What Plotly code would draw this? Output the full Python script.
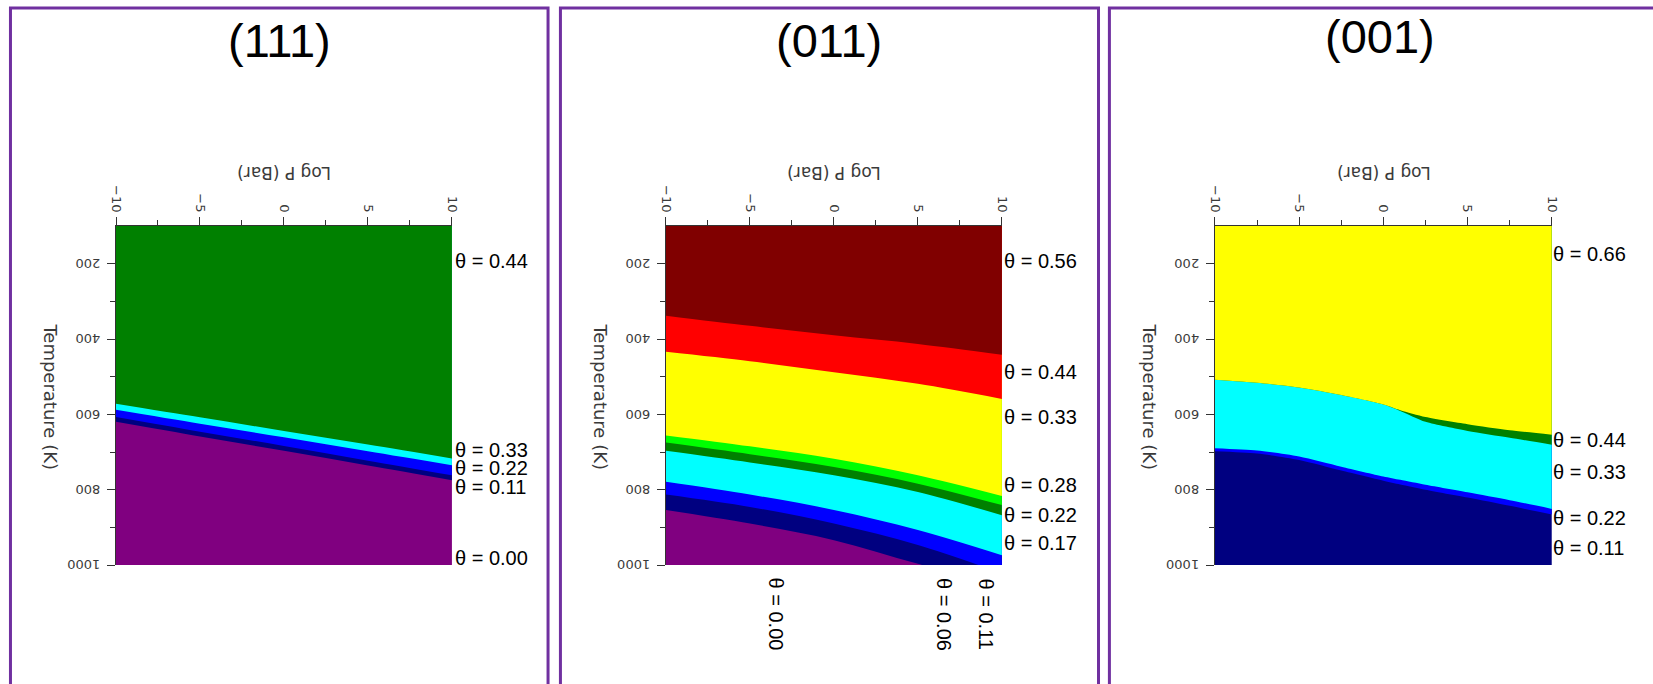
import plotly.graph_objects as go

W, H = 1653, 684

# ---------------- data ----------------
# log pressure grid (Bar) on which the phase boundaries are sampled
LOG_P = [-10.0, -5.0, 0.0, 5.0, 10.0]
LOG_P_001 = [-10.0, -7.5, -5.0, -2.5, 0.0, 1.0, 2.5, 5.0, 7.5, 10.0]

# (111): temperature (K) of the boundary below each coverage phase
B111_044 = [572, 608, 644, 680, 717]
B111_033 = [588, 625, 661, 698, 735]
B111_022 = [607, 646, 684, 723, 762]
B111_011 = [620, 659, 697, 736, 775]

# (011)
B011_056 = [338, 365, 390, 413, 442]
B011_044 = [434, 459, 488, 519, 559]
B011_033 = [656, 685, 718, 762, 817]
B011_028 = [675, 706, 740, 784, 841]
B011_022 = [697, 728, 762, 806, 868]
B011_017 = [779, 813, 854, 907, 974]
B011_011 = [813, 846, 890, 947, 1022]
B011_006 = [854, 890, 934, 997, 1057]

# (001)
B001_066 = [508, 516, 529, 549, 574, 589, 607, 626, 642, 654]
B001_044 = [508, 516, 529, 549, 574, 591, 620, 644, 662, 681]
B001_033 = [690, 696, 712, 739, 765, 774, 787, 807, 828, 851]
B001_022 = [698, 704, 721, 749, 776, 786, 800, 821, 843, 866]

# coverage labels, top to bottom
THETA_111 = ["0.44", "0.33", "0.22", "0.11", "0.00"]
THETA_011 = ["0.56", "0.44", "0.33", "0.28", "0.22", "0.17", "0.11", "0.06", "0.00"]
THETA_001 = ["0.66", "0.44", "0.33", "0.22", "0.11"]

PANEL_TITLES = ["(111)", "(011)", "(001)"]

T_TICKS = [200, 400, 600, 800, 1000]
T_MINOR = [300, 500, 700, 900]
P_TICKS = [-10, -5, 0, 5, 10]
P_MINOR = [-7.5, -2.5, 2.5, 7.5]

# ---------------- styling ----------------
C = dict(green="#008000", cyan="#00FFFF", blue="#0000FF", navy="#000080",
         purple="#800080", darkred="#800000", red="#FF0000",
         yellow="#FFFF00", lime="#00FF00")
BORDER = "#7030A0"
AXIS = "#333333"
T_TOP, T_BOTTOM = 100, 1000
FILL_BOTTOM = 1300


def px_x(p):
    return p / W


def px_y(p):
    return 1 - p / H


panels = [
    dict(x0=110, x1=449, y0=226, y1=565, logp=LOG_P, smooth=1.0,
         bounds=[B111_044, B111_033, B111_022, B111_011],
         colors=[C["green"], C["cyan"], C["blue"], C["navy"], C["purple"]]),
    dict(x0=665, x1=1004, y0=226, y1=565, logp=LOG_P, smooth=1.0,
         bounds=[B011_056, B011_044, B011_033, B011_028, B011_022,
                 B011_017, B011_011, B011_006],
         colors=[C["darkred"], C["red"], C["yellow"], C["lime"], C["green"],
                 C["cyan"], C["blue"], C["navy"], C["purple"]]),
    dict(x0=1219, x1=1559, y0=226, y1=565, logp=LOG_P_001, smooth=0.7,
         bounds=[B001_066, B001_044, B001_033, B001_022],
         colors=[C["yellow"], C["green"], C["cyan"], C["blue"], C["navy"]]),
]

fig = go.Figure()
layout = dict(
    width=W, height=H, margin=dict(l=0, r=0, t=0, b=0),
    paper_bgcolor="white", plot_bgcolor="white", showlegend=False,
)

tick_font = dict(family="DejaVu Sans", size=13, color="#3a3a3a")
annotations = []
shapes = []

for i, pan in enumerate(panels):
    xa = "x" if i == 0 else f"x{i + 1}"
    ya = "y" if i == 0 else f"y{i + 1}"
    logp = pan["logp"]
    cols = pan["colors"]
    # bottom phase first, then every phase above it is filled from its
    # lower boundary up to T = 0, each one over the previous
    fig.add_trace(go.Scatter(
        x=[logp[0], logp[-1]], y=[FILL_BOTTOM, FILL_BOTTOM], mode="lines",
        fill="tozeroy", fillcolor=cols[-1], line=dict(width=0, color=cols[-1]),
        hoverinfo="skip", xaxis=xa, yaxis=ya))
    for j in range(len(pan["bounds"]) - 1, -1, -1):
        fig.add_trace(go.Scatter(
            x=logp, y=pan["bounds"][j], mode="lines", fill="tozeroy",
            fillcolor=cols[j],
            line=dict(width=0, color=cols[j], shape="spline",
                      smoothing=pan["smooth"]),
            hoverinfo="skip", xaxis=xa, yaxis=ya))

    key_x = "xaxis" if i == 0 else f"xaxis{i + 1}"
    key_y = "yaxis" if i == 0 else f"yaxis{i + 1}"
    layout[key_x] = dict(
        domain=[px_x(pan["x0"]), px_x(pan["x1"])], anchor=ya, side="top",
        range=[-10, 10], tickvals=P_TICKS, ticks="outside", ticklen=8,
        tickcolor=AXIS, showline=True, linecolor=AXIS, linewidth=1,
        tickangle=90, tickfont=tick_font, showgrid=False, zeroline=False,
        minor=dict(tickvals=P_MINOR, ticks="outside", ticklen=5,
                   tickcolor=AXIS, showgrid=False),
    )
    layout[key_y] = dict(
        domain=[px_y(pan["y1"]), px_y(pan["y0"])], anchor=xa,
        range=[T_BOTTOM, T_TOP], tickvals=T_TICKS, ticks="outside", ticklen=8,
        tickcolor=AXIS, showline=True, linecolor=AXIS, linewidth=1,
        showticklabels=False, showgrid=False, zeroline=False,
        minor=dict(tickvals=T_MINOR, ticks="outside", ticklen=5,
                   tickcolor=AXIS, showgrid=False),
    )
    # temperature tick labels, written upside down
    for t in T_TICKS:
        annotations.append(dict(text=str(t), xref="paper", yref=ya,
                                x=px_x(pan["x0"] - 14), y=t, showarrow=False,
                                xanchor="right", yanchor="middle",
                                textangle=180, font=tick_font))

fig.update_layout(**layout)

# panel frames
frames = [(3.5, 546), (558.5, 1101.5), (1112.5, 1700)]
for (a, b) in frames:
    shapes.append(dict(type="rect", xref="paper", yref="paper",
                       x0=px_x(a), x1=px_x(b), y0=px_y(8), y1=px_y(720),
                       line=dict(color=BORDER, width=3)))

title_pos = [(274.5, 40), (830, 40), (1386, 37)]
for txt, (cx, cy) in zip(PANEL_TITLES, title_pos):
    annotations.append(dict(text=txt, xref="paper", yref="paper",
                            x=px_x(cx), y=px_y(cy), showarrow=False,
                            xanchor="center", yanchor="middle",
                            font=dict(family="Liberation Sans", size=47,
                                      color="black")))

# axis titles (the frame is drawn turned half a revolution)
for pan in panels:
    cx = (pan["x0"] + pan["x1"]) / 2
    annotations.append(dict(text="Log P (Bar)", xref="paper", yref="paper",
                            x=px_x(cx), y=px_y(173), showarrow=False,
                            xanchor="center", yanchor="middle", textangle=180,
                            font=dict(family="DejaVu Sans", size=17,
                                      color="#3a3a3a")))
    annotations.append(dict(text="Temperature (K)", xref="paper", yref="paper",
                            x=px_x(pan["x0"] - 67), y=px_y(397),
                            showarrow=False, xanchor="center",
                            yanchor="middle", textangle=90,
                            font=dict(family="DejaVu Sans", size=18,
                                      color="#3a3a3a")))

label_font = dict(family="Liberation Sans", size=20, color="black")


def theta_right(theta, x_left, ys):
    for t, y in zip(theta, ys):
        annotations.append(dict(text=f"θ = {t}", xref="paper", yref="paper",
                                x=px_x(x_left), y=px_y(y), showarrow=False,
                                xanchor="left", yanchor="middle",
                                borderpad=0, font=label_font))


theta_right(THETA_111, 451, [261, 450, 468, 487, 558])
theta_right(THETA_011[:6], 1005, [261, 372, 417, 485, 515, 543])
theta_right(THETA_001, 1559, [254, 440, 472, 518, 548])

for t, x in zip(THETA_011[6:], [988, 946, 777]):
    annotations.append(dict(text=f"θ = {t}", xref="paper", yref="paper",
                            x=px_x(x), y=px_y(576), showarrow=False,
                            xanchor="center", yanchor="top", textangle=90,
                            font=label_font))

fig.update_layout(annotations=annotations, shapes=shapes)
fig.write_html("out.html")
